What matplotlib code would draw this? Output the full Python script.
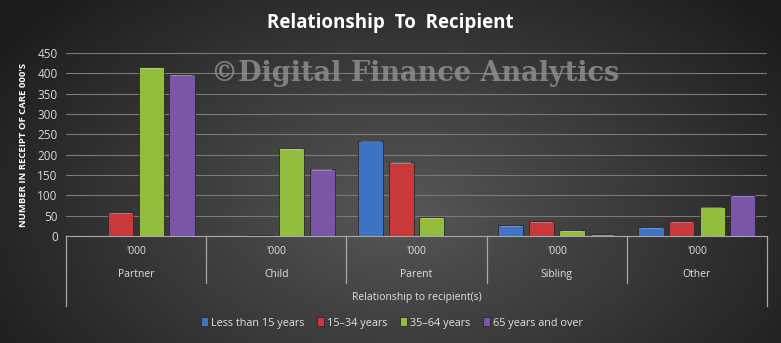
import numpy as np
import matplotlib
matplotlib.use("Agg")
import matplotlib.pyplot as plt
from matplotlib.lines import Line2D
from matplotlib.transforms import blended_transform_factory

# data ('000 persons)
categories = ["Partner", "Child", "Parent", "Sibling", "Other"]
series_names = ["Less than 15 years", "15\u201334 years", "35\u201364 years", "65 years and over"]
less_than_15 = [0, 0, 234, 26, 21]
age_15_34 = [58, 3, 182, 36, 36]
age_35_64 = [415, 216, 46, 14, 72]
age_65_over = [398, 165, 0, 4, 100]
colors = ["#3f74c4", "#c9393a", "#93bd3c", "#7b55a8"]

plt.rcParams['font.family'] = ['Open Sans', 'DejaVu Sans']

fig = plt.figure(figsize=(7.81, 3.43), dpi=100)

# radial gradient background
bg = fig.add_axes([0, 0, 1, 1], zorder=-10)
yy, xx = np.mgrid[0:343, 0:781]
r = np.sqrt(((xx - 400) / 520.0) ** 2 + ((yy - 210) / 330.0) ** 2)
shade = np.clip(0.34 - 0.25 * r, 0.11, 0.34)
bg.imshow(np.dstack([shade] * 3), aspect='auto', extent=[0, 1, 0, 1])
bg.axis('off')

ax = fig.add_axes([66 / 781, (343 - 236) / 343, (767 - 66) / 781, 183 / 343])
ax.set_facecolor('none')

x = np.arange(len(categories))
step = 0.218
width = 0.18
for i, (vals, c) in enumerate(zip([less_than_15, age_15_34, age_35_64, age_65_over], colors)):
    ax.bar(x + (i - 1.5) * step, vals, width, color=c, edgecolor='#2a2a2a',
           linewidth=0.6, label=series_names[i], zorder=3)
    # light bevel on bar tops
    ax.bar(x + (i - 1.5) * step, [3 if v > 3 else 0 for v in vals], width * 0.8,
           bottom=[v - 4 for v in vals], color='white', alpha=0.25, linewidth=0, zorder=4)

ax.set_xlim(-0.5, 4.5)
ax.set_ylim(0, 450)
ax.set_yticks(range(0, 451, 50))
ax.yaxis.grid(True, color='#7a7a7a', linewidth=0.8)
ax.set_axisbelow(True)
ax.set_xticks([])
for s in ['top', 'right', 'left']:
    ax.spines[s].set_visible(False)
ax.spines['bottom'].set_color('#a8a8a8')
ax.tick_params(axis='y', length=0, colors='#d8d8d8', labelsize=8.5, pad=6)

ax.set_ylabel("NUMBER IN RECEIPT OF CARE 000'S", color='white', fontsize=6.8,
              fontweight='bold', labelpad=7)

# multi-level category axis
tr = blended_transform_factory(ax.transData, ax.transAxes)
for b in np.arange(-0.5, 5.0, 1.0):
    bottom = -0.383 if b in (-0.5, 4.5) else -0.257
    ax.add_line(Line2D([b, b], [0, bottom], transform=tr, color='#a8a8a8',
                       linewidth=0.9, clip_on=False))
for xi, name in zip(x, categories):
    ax.text(xi, -0.085, "'000", transform=tr, ha='center', va='center',
            color='#e0e0e0', fontsize=7.5)
    ax.text(xi, -0.21, name, transform=tr, ha='center', va='center',
            color='#e0e0e0', fontsize=7.5)
ax.text(2, -0.335, "Relationship to recipient(s)", transform=tr, ha='center',
        va='center', color='#e0e0e0', fontsize=7.5)

fig.text(0.5, 0.932, "Relationship  To  Recipient", ha='center', va='center',
         color='white', fontsize=13.5, fontweight='bold')
fig.text(0.532, 0.787, "\u00a9Digital Finance Analytics", ha='center', va='center',
         color='#8e8e8e', fontsize=19.5, fontweight='bold', family='DejaVu Serif', alpha=0.85)

leg = fig.legend(loc='center', bbox_to_anchor=(0.502, 0.058), ncol=4, frameon=False,
                 fontsize=7.8, handlelength=0.6, handleheight=0.9, handletextpad=0.3,
                 columnspacing=1.2, labelcolor='#e0e0e0')

fig.savefig("out.png", dpi=100)
